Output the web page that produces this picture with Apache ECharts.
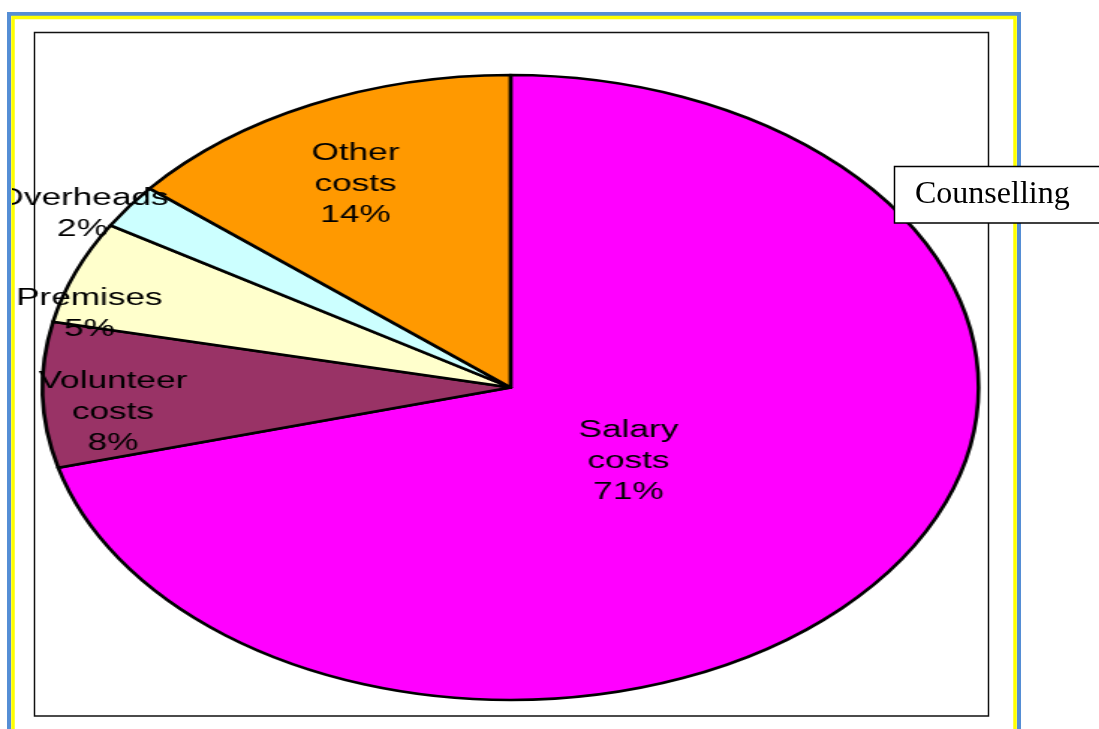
<!DOCTYPE html>
<html>
<head>
<meta charset="utf-8">
<script src="https://cdn.jsdelivr.net/npm/echarts@6/dist/echarts.min.js"></script>
<style>
  html, body { margin: 0; padding: 0; background: #ffffff; }
  #bgLayer { position: absolute; left: 0; top: 0; width: 1099px; height: 729px; z-index: 0; }
  #clip { position: absolute; left: 12px; top: 0; width: 1087px; height: 729px; overflow: hidden; z-index: 1; }
  #pieLayer { position: absolute; left: -12px; top: 0; width: 734px; height: 729px;
         transform-origin: 0 0; transform: scaleX(1.4976); }
  #topLayer { position: absolute; left: 0; top: 0; width: 1099px; height: 729px; z-index: 2; pointer-events: none; }
</style>
</head>
<body>
<div id="bgLayer"></div>
<div id="clip"><div id="pieLayer"></div></div>
<div id="topLayer"></div>
<script>
// ---- data ----
const categories = ['Salary costs', 'Volunteer costs', 'Premises', 'Overheads', 'Other costs'];
const values = [70.8, 7.5, 5.3, 2.3, 14.0];
const colors = ['#FF00FF', '#993366', '#FFFFCC', '#CCFFFF', '#FF9900'];
const chartTitle = 'Counselling';

// ---- label placement tweaks (style, relative to default inner position) ----
const labelShift = [[-47.5, -22.6], [-106.3, 21], [-133.3, -15], [-156, -81.5], [-35.7, -58.7]];

// background frames
const bgChart = echarts.init(document.getElementById('bgLayer'), null, { renderer: 'canvas' });
bgChart.setOption({
  backgroundColor: '#ffffff',
  animation: false,
  graphic: [
    { type: 'rect', shape: { x: 9, y: 14, width: 1010, height: 800 }, style: { fill: 'none', stroke: '#558ED5', lineWidth: 4 } },
    { type: 'rect', shape: { x: 13, y: 17.5, width: 1002, height: 800 }, style: { fill: 'none', stroke: '#FFFF00', lineWidth: 3.5 } },
    { type: 'rect', shape: { x: 34.5, y: 32.5, width: 954, height: 683.5 }, style: { fill: '#ffffff', stroke: '#111111', lineWidth: 1.5 } }
  ]
});

// pie (drawn in a horizontally stretched layer to get the elliptical look)
const pieChart = echarts.init(document.getElementById('pieLayer'), null, { renderer: 'canvas' });
pieChart.setOption({
  animation: false,
  series: [{
    type: 'pie',
    center: [340.9, 387.5],
    radius: 312.5,
    startAngle: 90,
    clockwise: true,
    avoidLabelOverlap: false,
    percentPrecision: 0,
    silent: true,
    emphasis: { disabled: true },
    itemStyle: { borderColor: '#000000', borderWidth: 2.6 },
    label: {
      show: true,
      position: 'inner',
      rotate: 0,
      overflow: 'none',
      color: '#000000',
      fontFamily: '"Liberation Sans", Arial, sans-serif',
      fontSize: 23.5,
      lineHeight: 31,
      align: 'center',
      formatter: function (p) { return p.name.replace(' ', '\n') + '\n' + p.percent + '%'; }
    },
    labelLine: { show: false },
    labelLayout: function (p) {
      const s = labelShift[p.dataIndex];
      return { dx: s[0], dy: s[1] };
    },
    data: categories.map(function (c, i) {
      return { name: c, value: values[i], itemStyle: { color: colors[i] } };
    })
  }]
});

// top layer: title box
const topChart = echarts.init(document.getElementById('topLayer'), null, { renderer: 'canvas' });
topChart.setOption({
  animation: false,
  graphic: [
    { type: 'rect', shape: { x: 894.5, y: 166.5, width: 230, height: 56.5 }, style: { fill: '#ffffff', stroke: '#000000', lineWidth: 1.5 } },
    { type: 'text', x: 915, y: 194.5, style: { text: chartTitle, fill: '#000000', font: '32px "Liberation Serif", "Times New Roman", serif', verticalAlign: 'middle' } }
  ]
});
</script>
</body>
</html>
